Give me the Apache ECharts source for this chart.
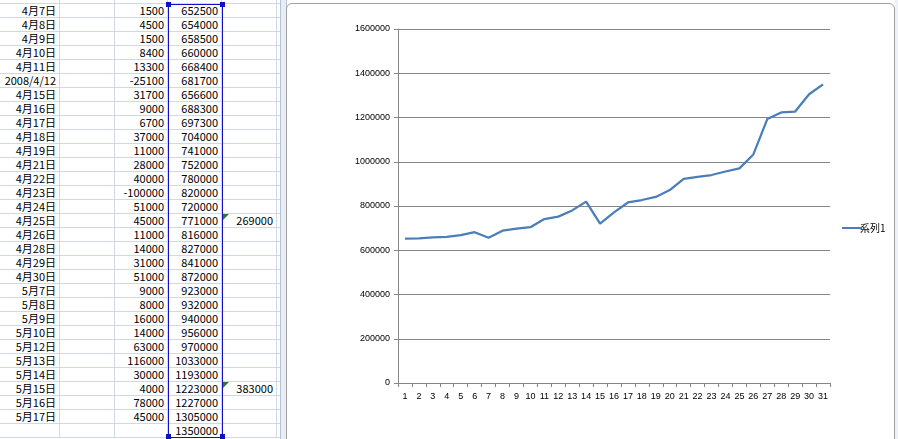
<!DOCTYPE html>
<html>
<head>
<meta charset="utf-8">
<script src="https://cdn.jsdelivr.net/npm/echarts@6/dist/echarts.min.js"></script>
<style>
  html, body { margin:0; padding:0; width:898px; height:439px; overflow:hidden; background:#fff; }
  #sheet { position:absolute; left:0; top:0; width:282px; height:439px; overflow:hidden; background:#fff;
           font-family:"Noto Sans CJK JP", sans-serif; font-size:11px; color:#000; }
  .row { position:absolute; left:0; width:282px; height:13px; border-bottom:1px solid #d0d7e5; }
  .cell { position:absolute; top:0; height:13px; line-height:13px; text-align:right; box-sizing:border-box;
          border-right:1px solid #d0d7e5; padding-right:3px; white-space:nowrap; }
  #split { position:absolute; left:280px; top:0; width:5px; height:439px; background:#e9eef6;
           border-left:1px solid #b8c4d6; border-right:1px solid #b8c4d6; }
  #frame { position:absolute; left:286px; top:3px; width:607px; height:445px; border:1px solid #a0a0a0;
           border-radius:6px; background:#fff; }
  #rightstrip { position:absolute; left:895px; top:0; width:3px; height:439px; background:#eef2f8; }
  #sel { position:absolute; left:168px; top:4px; width:53px; height:432px; border:1px solid #1010c8; }
  .hdl { position:absolute; width:5px; height:5px; background:#1010c8; }
  .tri { position:absolute; width:0; height:0; border-top:6px solid #2f7a2f; border-right:6px solid transparent; }
  #chart { position:absolute; left:0; top:0; width:898px; height:439px; }
</style>
</head>
<body>
<div id="sheet"></div>
<div id="split"></div>
<div id="frame"></div>
<div id="rightstrip"></div>
<div id="chart"></div>
<script>
// ---- data ----
const dates = ["4月7日","4月8日","4月9日","4月10日","4月11日","2008/4/12","4月15日","4月16日","4月17日","4月18日",
  "4月19日","4月21日","4月22日","4月23日","4月24日","4月25日","4月26日","4月28日","4月29日","4月30日",
  "5月7日","5月8日","5月9日","5月10日","5月12日","5月13日","5月14日","5月15日","5月16日","5月17日",""];
const diffs = [1500,4500,1500,8400,13300,-25100,31700,9000,6700,37000,
  11000,28000,40000,-100000,51000,45000,11000,14000,31000,51000,
  9000,8000,16000,14000,63000,116000,30000,4000,78000,45000,""];
const totals = [652500,654000,658500,660000,668400,681700,656600,688300,697300,704000,
  741000,752000,780000,820000,720000,771000,816000,827000,841000,872000,
  923000,932000,940000,956000,970000,1033000,1193000,1223000,1227000,1305000,1350000];
const extraCol = {15:"269000", 27:"383000"};
const xLabels = ["1","2","3","4","5","6","7","8","9","10","11","12","13","14","15","16",
  "17","18","19","20","21","22","23","24","25","26","27","28","29","30","31"];
const yTicks = [0,200000,400000,600000,800000,1000000,1200000,1400000,1600000];
const seriesName = "系列1";

// ---- spreadsheet (HTML) ----
const sheet = document.getElementById('sheet');
const colX = [0,60,115,168,222,277];
const rowH = 14, top0 = 4;
(function(){
  const r = document.createElement('div'); r.className='row'; r.style.top=(top0-rowH)+'px';
  for (let c=0;c<5;c++){ const d=document.createElement('div'); d.className='cell';
    d.style.left=colX[c]+'px'; d.style.width=(colX[c+1]-colX[c])+'px'; r.appendChild(d);}
  sheet.appendChild(r);
})();
for (let i=0;i<totals.length;i++){
  const r = document.createElement('div'); r.className='row'; r.style.top=(top0+i*rowH)+'px';
  const vals = [dates[i]||"", "", diffs[i]===""?"":String(diffs[i]), String(totals[i]), extraCol[i]||""];
  for (let c=0;c<5;c++){
    const d=document.createElement('div'); d.className='cell';
    d.style.left=colX[c]+'px'; d.style.width=(colX[c+1]-colX[c])+'px';
    d.textContent = vals[c];
    r.appendChild(d);
    if (c===4 && extraCol[i]) { const t=document.createElement('div'); t.className='tri';
      t.style.left='1px'; t.style.top='0px'; d.appendChild(t); }
  }
  sheet.appendChild(r);
}
const sel=document.createElement('div'); sel.id='sel'; sheet.appendChild(sel);
[[166,2],[220,2],[166,434],[220,434]].forEach(p=>{const h=document.createElement('div');h.className='hdl';
  h.style.left=p[0]+'px';h.style.top=p[1]+'px';sheet.appendChild(h);});

// ---- chart ----
const chart = echarts.init(document.getElementById('chart'), null, {renderer:'canvas'});
const axisGray = '#868686';
chart.setOption({
  backgroundColor: 'transparent',
  animation: false,
  textStyle: { fontFamily: 'Liberation Sans, Arial, sans-serif' },
  grid: { left: 398, right: 68, top: 29, bottom: 56, containLabel: false },
  legend: {
    data: [{ name: seriesName, icon: 'rect' }],
    orient: 'vertical', left: 837, top: 218,
    itemWidth: 20, itemHeight: 2, itemGap: 4,
    textStyle: { fontFamily: '"Noto Sans CJK JP", sans-serif', fontSize: 10, color: '#000', padding:[0,0,0,-7] },
    selectedMode: false
  },
  xAxis: {
    type: 'category', data: xLabels, boundaryGap: true,
    axisLine: { lineStyle: { color: axisGray, width: 1 } },
    axisTick: { show: true, length: 4, lineStyle: { color: axisGray }, alignWithLabel: false },
    axisLabel: { interval: 0, fontSize: 9, color: '#000', margin: 9 },
    splitLine: { show: false }
  },
  yAxis: {
    type: 'value', min: yTicks[0], max: yTicks[yTicks.length-1], interval: yTicks[1]-yTicks[0],
    axisLine: { show: true, lineStyle: { color: axisGray, width: 1 } },
    axisTick: { show: true, length: 4, lineStyle: { color: axisGray } },
    axisLabel: { fontSize: 9, color: '#000', margin: 8, formatter: v => String(v) },
    splitLine: { show: true, lineStyle: { color: axisGray, width: 1 } }
  },
  series: [{
    name: seriesName, type: 'line', data: totals,
    symbol: 'none', smooth: false,
    lineStyle: { color: '#4a7ebb', width: 2.25 },
    itemStyle: { color: '#4a7ebb' }
  }]
});
</script>
</body>
</html>
